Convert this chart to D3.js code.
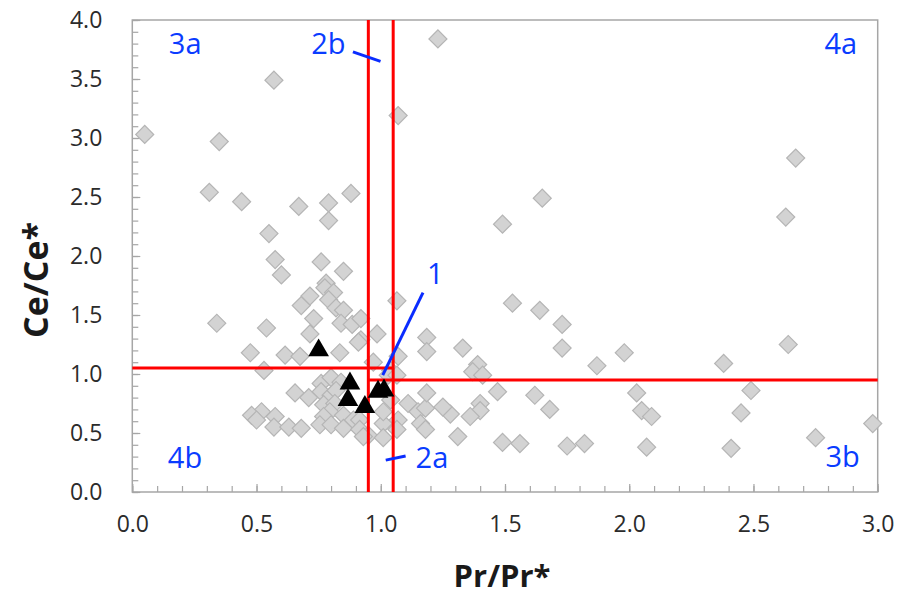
<!DOCTYPE html>
<html><head><meta charset="utf-8">
<script src="https://cdn.jsdelivr.net/npm/d3@7"></script>
<style>
body{margin:0;background:#fff;}
svg{display:block;font-family:"Open Sans",sans-serif;}
</style></head>
<body><svg id="c" width="902" height="598"></svg>
<script>
const xTicks = [0,0.5,1,1.5,2,2.5,3];
const yTicks = [0,0.5,1,1.5,2,2.5,3,3.5,4];
const xTitle = "Pr/Pr*";
const yTitle = "Ce/Ce*";

// grey diamonds: [Pr/Pr*, Ce/Ce*]
const samples = [
[0.05,3.03],[0.35,2.97],[0.57,3.49],[1.23,3.84],[1.07,3.19],
[0.31,2.54],[0.44,2.46],[0.67,2.42],[0.79,2.45],[0.88,2.53],[0.79,2.30],[0.55,2.19],
[2.67,2.83],[2.63,2.33],[1.65,2.49],[1.49,2.27],
[1.53,1.60],[1.64,1.54],[1.73,1.42],[1.73,1.22],[1.33,1.22],[1.87,1.07],[1.98,1.18],[2.38,1.09],[2.64,1.25],
[1.39,1.08],[1.37,1.02],[1.41,0.99],[1.47,0.85],[1.62,0.82],[1.68,0.70],[2.03,0.84],[2.05,0.69],[2.09,0.64],
[2.49,0.86],[2.45,0.67],[2.98,0.58],[2.75,0.46],[2.41,0.37],[2.07,0.38],[1.82,0.41],[1.75,0.39],[1.56,0.41],
[1.49,0.42],[1.31,0.47],[1.40,0.75],[1.40,0.69],[1.36,0.64],[1.28,0.66],[1.25,0.72],
[0.575,1.97],[0.76,1.95],[0.60,1.84],[0.85,1.87],[0.78,1.77],[0.775,1.73],[0.81,1.69],[0.715,1.66],[0.68,1.58],
[0.79,1.63],[0.82,1.56],[0.85,1.54],[0.73,1.47],[0.84,1.43],[0.885,1.42],[0.54,1.39],[0.715,1.34],[0.92,1.29],
[0.475,1.18],[0.615,1.16],[0.675,1.15],[0.835,1.18],[0.34,1.43],
[1.065,1.62],[0.92,1.47],[0.985,1.34],[0.91,1.27],[1.185,1.31],[1.185,1.19],[1.07,1.15],[0.97,1.10],
[0.53,1.03],[0.76,0.92],[0.80,0.97],[0.84,0.93],[0.655,0.84],[0.71,0.80],[0.76,0.85],[0.80,0.82],[0.82,0.86],
[0.77,0.74],[0.815,0.75],[0.795,0.68],[0.85,0.65],[0.77,0.64],[0.52,0.68],[0.48,0.65],[0.50,0.61],[0.575,0.64],
[0.57,0.55],[0.63,0.55],[0.68,0.54],[0.755,0.57],[0.80,0.57],[0.85,0.54],[0.89,0.61],
[0.915,0.61],[0.915,0.53],[0.95,0.48],[1.01,0.58],[1.01,0.68],[1.04,0.78],[1.07,0.61],[1.065,0.53],[1.11,0.75],
[1.15,0.68],[1.18,0.71],[1.16,0.58],[1.18,0.53],[1.185,0.84],[0.93,0.47],[1.01,0.46],[1.04,1.03],[1.03,0.99],[1.065,0.99]
];
// black triangles
const studied = [[0.75,1.20],[0.876,0.92],[0.868,0.78],[0.936,0.72],[0.989,0.85],[1.013,0.86]];

// red boundary lines [x1,y1,x2,y2] in data units
const bounds = [[0.95,0,0.95,4],[1.05,0,1.05,4],[0,1.05,1.05,1.05],[0.95,0.95,3,0.95]];
// field labels
const fields = [
 {t:"3a",x:0.147,y:3.71,a:"start"},{t:"2b",x:0.72,y:3.71,a:"start"},{t:"4a",x:2.786,y:3.71,a:"start"},
 {t:"1",x:1.186,y:1.76,a:"start"},{t:"4b",x:0.143,y:0.2,a:"start"},{t:"2a",x:1.14,y:0.2,a:"start"},
 {t:"3b",x:2.79,y:0.21,a:"start"}
];
// leader lines [x1,y1,x2,y2] in data units
const leaders = [[0.888,3.73,0.999,3.65],[1.17,1.69,1.008,0.99],[1.02,0.27,1.1,0.305]];

const svg = d3.select("#c");
const L=132.3,R=877.7,T=20,B=492;
const x = d3.scaleLinear().domain([0,3]).range([L,R]);
const y = d3.scaleLinear().domain([0,4]).range([B,T]);
const grey="#a6a6a6";

// frame
svg.append("rect").attr("x",L).attr("y",T).attr("width",R-L).attr("height",B-T)
  .attr("fill","none").attr("stroke",grey).attr("stroke-width",1.5);

const minorX = d3.range(0,3.001,0.1);
const minorY = d3.range(0,4.001,0.1);
const gx = svg.append("g").attr("transform",`translate(0,${B})`)
  .call(d3.axisBottom(x).tickValues(minorX).tickSize(-6).tickFormat(""));
const gy = svg.append("g").attr("transform",`translate(${L},0)`)
  .call(d3.axisLeft(y).tickValues(minorY).tickSize(-6).tickFormat(""));
[gx,gy].forEach(g=>{g.select(".domain").remove();g.selectAll("line").attr("stroke",grey).attr("stroke-width",1.2);});

const gxl = svg.append("g").attr("transform",`translate(0,${B})`)
  .call(d3.axisBottom(x).tickValues(xTicks).tickSize(-8).tickPadding(24).tickFormat(d3.format(".1f")));
const gyl = svg.append("g").attr("transform",`translate(${L},0)`)
  .call(d3.axisLeft(y).tickValues(yTicks).tickSize(-8).tickPadding(30).tickFormat(d3.format(".1f")));
[gxl,gyl].forEach(g=>{
  g.select(".domain").remove();
  g.selectAll("line").attr("stroke",grey).attr("stroke-width",1.2);
  g.selectAll("text").attr("fill","#2b2b2b").style("font-size","23px").style("font-family","Open Sans");
});

// titles
svg.append("text").attr("x",502).attr("y",587).attr("text-anchor","middle")
  .style("font-size","31px").style("font-weight","bold").attr("fill","#1a1a1a").text(xTitle);
svg.append("text").attr("transform","translate(48,280) rotate(-90)").attr("text-anchor","middle")
  .style("font-size","34px").style("font-weight","bold").attr("fill","#1a1a1a").text(yTitle);

// diamonds
const sq = d3.symbol().type(d3.symbolSquare).size(162);
svg.append("g").selectAll("path").data(samples).join("path")
  .attr("d",sq).attr("transform",d=>`translate(${x(d[0])},${y(d[1])}) rotate(45)`)
  .attr("fill","#d3d3d3").attr("stroke","#b5b5b5").attr("stroke-width",1.2);

// red lines
svg.append("g").selectAll("line").data(bounds).join("line")
  .attr("x1",d=>x(d[0])).attr("y1",d=>y(d[1])).attr("x2",d=>x(d[2])).attr("y2",d=>y(d[3]))
  .attr("stroke","#ff0000").attr("stroke-width",3);

// triangles
const tri = d3.symbol().type(d3.symbolTriangle).size(185);
svg.append("g").selectAll("path").data(studied).join("path")
  .attr("d",tri).attr("transform",d=>`translate(${x(d[0])},${y(d[1])})`)
  .attr("fill","#000");

// leaders & labels
svg.append("g").selectAll("line").data(leaders).join("line")
  .attr("x1",d=>x(d[0])).attr("y1",d=>y(d[1])).attr("x2",d=>x(d[2])).attr("y2",d=>y(d[3]))
  .attr("stroke","#0a2cff").attr("stroke-width",3);
svg.append("g").selectAll("text").data(fields).join("text")
  .attr("x",d=>x(d.x)).attr("y",d=>y(d.y)).attr("text-anchor",d=>d.a)
  .style("font-size","29px").attr("fill","#0a3cff").text(d=>d.t);
</script></body></html>
